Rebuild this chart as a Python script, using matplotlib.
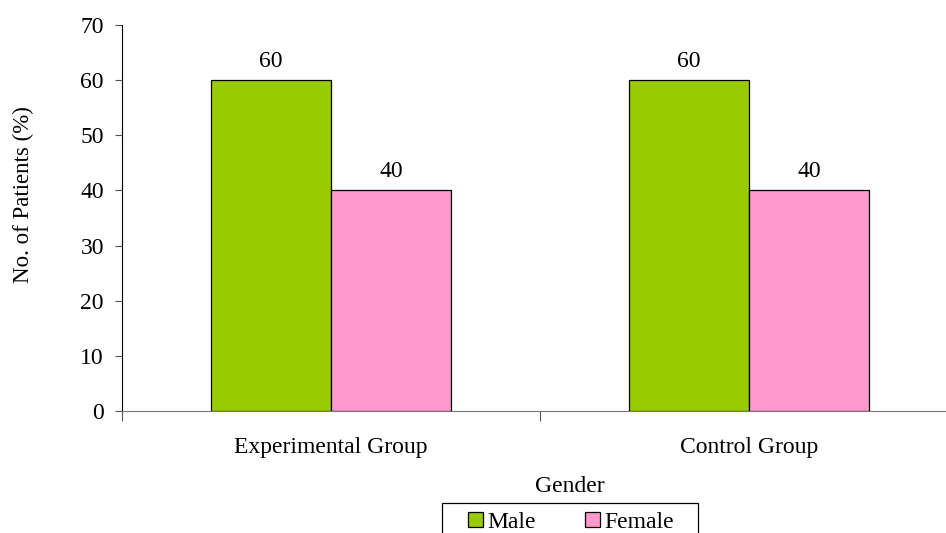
import matplotlib.pyplot as plt
import matplotlib.patches as mpatches
import numpy as np

plt.rcParams['font.family'] = ['Liberation Serif', 'DejaVu Serif']

groups = ['Experimental Group', 'Control Group']
series_names = ['Male', 'Female']
male = [60, 60]
female = [40, 40]
colors = ['#99CC00', '#FF99CC']
fs = 17

fig = plt.figure(figsize=(9.46, 5.33), dpi=100)
# axes runs past the right edge of the figure, like the original export
ax = fig.add_axes([122 / 946, 1 - 411 / 533, (958 - 122) / 946, (411 - 25) / 533])

x = np.arange(len(groups))
w = 120 / 418
bars_m = ax.bar(x - w / 2, male, w, color=colors[0], edgecolor='black', linewidth=0.9, label=series_names[0])
bars_f = ax.bar(x + w / 2, female, w, color=colors[1], edgecolor='black', linewidth=0.9, label=series_names[1])

for bars, vals in ((bars_m, male), (bars_f, female)):
    for b, v in zip(bars, vals):
        ax.annotate(str(v), (b.get_x() + b.get_width() / 2, v), xytext=(0, 6),
                    textcoords='offset points', ha='center', va='bottom', fontsize=fs)

ax.set_xlim(-0.5, 1.5)
ax.set_ylim(0, 70)
ax.set_yticks(range(0, 71, 10))
ax.set_xticks([-0.5, 0.5, 1.5])
ax.set_xticklabels([])
ax.set_xticks(x, minor=True)
ax.set_xticklabels(groups, minor=True)
ax.tick_params(axis='x', which='major', length=7, direction='out', color='#555555')
ax.tick_params(axis='x', which='minor', length=0, pad=19, labelsize=fs)
ax.tick_params(axis='y', length=5, color='#555555', labelsize=fs, pad=8)

for s in ('top', 'right'):
    ax.spines[s].set_visible(False)
ax.spines['bottom'].set_color('#777777')
ax.spines['left'].set_color('black')

ax.set_ylabel('No. of Patients (%)', fontsize=16.5)
ax.yaxis.set_label_coords(34 / 946, 1 - 195 / 533, transform=fig.transFigure)
fig.text(570 / 946, 1 - 486 / 533, 'Gender', ha='center', va='center', fontsize=fs)

# legend entries without frame, box drawn separately (it runs off the bottom edge)
leg = fig.legend(handles=[bars_m, bars_f], loc='upper left', bbox_to_anchor=(468 / 946, 1 - 512 / 533),
                 ncol=2, frameon=False, fontsize=fs,
                 handlelength=0.62, handleheight=0.62, handletextpad=0.2, columnspacing=2.1,
                 borderpad=0, borderaxespad=0)
fig.patches.append(mpatches.Rectangle((442 / 946, -0.05), (698 - 442) / 946, 0.05 + 1 - 503 / 533,
                                      transform=fig.transFigure, fill=False, edgecolor='black',
                                      linewidth=0.9))

fig.savefig('out.png', dpi=100)
